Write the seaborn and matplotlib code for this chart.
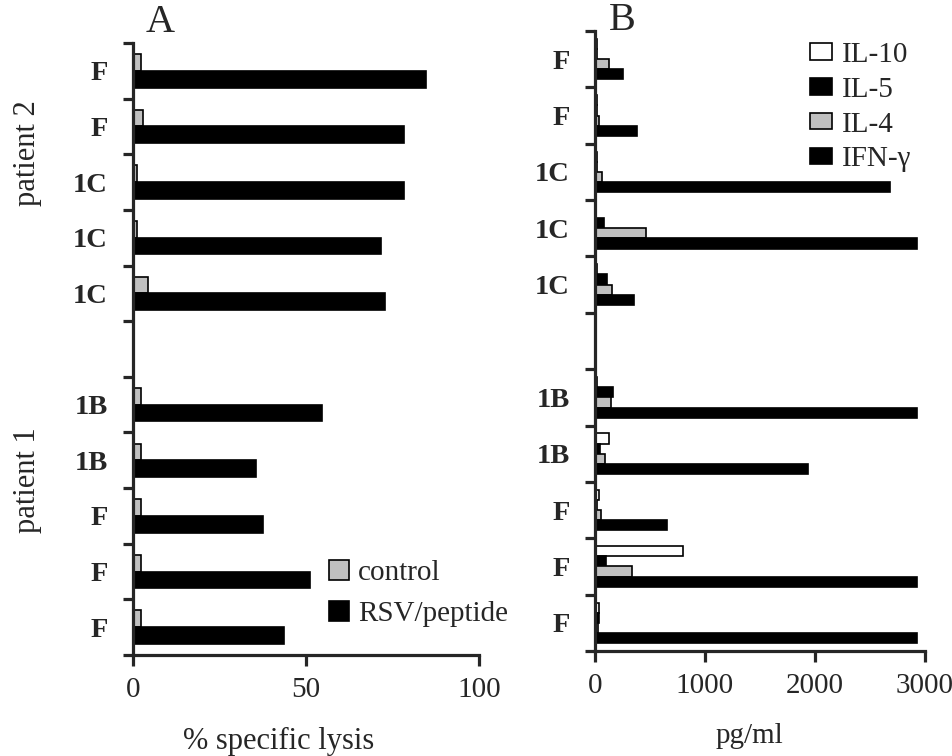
import numpy as np
import pandas as pd
import matplotlib
matplotlib.use("Agg")
import matplotlib.pyplot as plt
import seaborn as sns

sns.set_style("ticks")
plt.rcParams["font.family"] = ["Liberation Serif", "DejaVu Serif"]

# ---------------- data ----------------
slot_ids = ["p2a", "p2b", "p2c", "p2d", "p2e", "gap", "p1a", "p1b", "p1c", "p1d", "p1e"]
slot_labels = ["F", "F", "1C", "1C", "1C", "", "1B", "1B", "F", "F", "F"]
data_slots = ["p2a", "p2b", "p2c", "p2d", "p2e", "p1a", "p1b", "p1c", "p1d", "p1e"]

# Panel A: % specific lysis
lysis_series = ["control", "RSV/peptide"]
lysis_control = [2.2, 2.8, 1.1, 1.1, 4.3, 2.3, 2.3, 2.3, 2.3, 2.3]
lysis_rsv = [84.6, 78.4, 78.4, 71.6, 72.7, 54.5, 35.5, 37.5, 51.3, 43.6]

# Panel B: cytokines pg/ml
cyto_series = ["IL-10", "IL-5", "IL-4", "IFN-\u03b3"]
il10 = [15, 15, 15, 10, 15, 20, 124, 36, 803, 36]
il5 = [15, 20, 15, 85, 112, 167, 45, 20, 100, 36]
il4 = [130, 40, 67, 460, 158, 142, 91, 55, 340, 30]
ifng = [257, 385, 2680, 2930, 355, 2930, 1936, 650, 2930, 2930]

GRAY = "#c0c0c0"

dfA = pd.DataFrame({
    "slot": data_slots * 2,
    "series": [lysis_series[0]] * 10 + [lysis_series[1]] * 10,
    "value": lysis_control + lysis_rsv,
})
dfB = pd.DataFrame({
    "slot": data_slots * 4,
    "series": sum([[s] * 10 for s in cyto_series], []),
    "value": il10 + il5 + il4 + ifng,
})

W, H = 953, 756
fig = plt.figure(figsize=(W / 100, H / 100), dpi=100)

def frac_rect(l, r, t, b):
    return [l / W, 1 - b / H, (r - l) / W, (b - t) / H]

axA = fig.add_axes(frac_rect(133, 479, 43, 655))
axB = fig.add_axes(frac_rect(595, 925, 31, 651))

sns.barplot(data=dfA, y="slot", x="value", hue="series", order=slot_ids,
            hue_order=lysis_series, palette={"control": GRAY, "RSV/peptide": "black"},
            orient="h", width=0.6, saturation=1, edgecolor="black", linewidth=1.2,
            errorbar=None, ax=axA)
sns.barplot(data=dfB, y="slot", x="value", hue="series", order=slot_ids,
            hue_order=cyto_series,
            palette={"IL-10": "white", "IL-5": "black", "IL-4": GRAY, "IFN-\u03b3": "black"},
            orient="h", width=0.72, saturation=1, edgecolor="black", linewidth=1.2,
            errorbar=None, ax=axB)

SPW = 2.3
for ax, xmax, xt, tfs in [(axA, 100, [0, 50, 100], 21), (axB, 3000, [0, 1000, 2000, 3000], 21)]:
    ax.set_xlim(0, xmax)
    ax.set_ylim(10.5, -0.5)
    ax.set_xticks(xt)
    ax.set_xticklabels([str(v) for v in xt], fontsize=tfs)
    ax.set_yticks(range(len(slot_ids)))
    ax.set_yticklabels(slot_labels, fontsize=20.5, fontweight="bold")
    ax.set_yticks(np.arange(-0.5, len(slot_ids), 1.0), minor=True)
    ax.tick_params(axis="y", which="major", length=0, pad=18)
    ax.tick_params(axis="y", which="minor", length=7, width=SPW, direction="out")
    ax.tick_params(axis="x", which="major", length=8, width=SPW, direction="out", pad=8)
    for s in ["top", "right"]:
        ax.spines[s].set_visible(False)
    for s in ["left", "bottom"]:
        ax.spines[s].set_linewidth(SPW)
    ax.set_ylabel("")
    ax.grid(False)

axA.set_xlabel("% specific lysis", fontsize=22)
axA.xaxis.set_label_coords((279 - 133) / 346, (655 - 727) / 612)
axB.set_xlabel("pg/ml", fontsize=21)
axB.xaxis.set_label_coords((749 - 595) / 330, (651 - 723) / 620)

# legends
hA, lA = axA.get_legend_handles_labels()
axA.legend(hA, lA, loc="upper left", bbox_to_anchor=((329 - 133) / 346, (655 - 560) / 612),
           frameon=False, fontsize=21, handlelength=0.7, handleheight=0.7,
           handletextpad=0.3, labelspacing=0.5, borderpad=0, borderaxespad=0)
hB, lB = axB.get_legend_handles_labels()
axB.legend(hB, lB, loc="upper left", bbox_to_anchor=((810 - 595) / 330, (651 - 42) / 620),
           frameon=False, fontsize=21, handlelength=0.75, handleheight=0.5,
           handletextpad=0.35, labelspacing=0.3, borderpad=0, borderaxespad=0)

# panel letters and patient labels
fig.text(160 / W, 1 - 22 / H, "A", fontsize=29, ha="center", va="center")
fig.text(622 / W, 1 - 20 / H, "B", fontsize=29, ha="center", va="center")
fig.text(28 / W, 1 - 153 / H, "patient 2", fontsize=22, rotation=90, ha="center", va="center")
fig.text(28 / W, 1 - 480 / H, "patient 1", fontsize=22, rotation=90, ha="center", va="center")

fig.savefig("out.png", dpi=100)
